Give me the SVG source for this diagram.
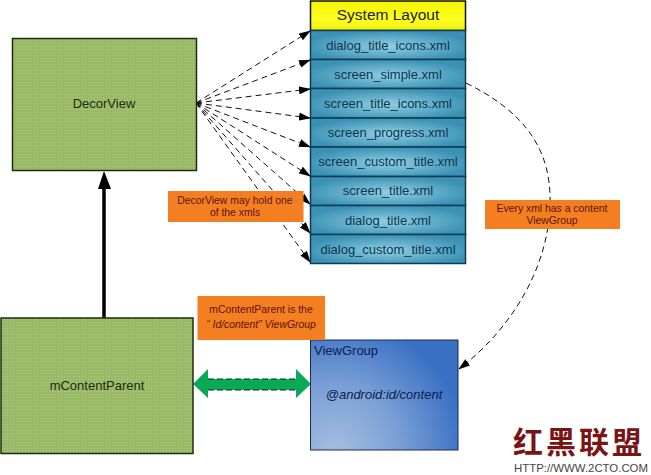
<svg xmlns="http://www.w3.org/2000/svg" width="651" height="475" viewBox="0 0 651 475">
<style>
text{font-family:"Liberation Sans",Arial,"Noto Sans CJK SC",sans-serif;text-anchor:middle}
.green{fill:url(#dots);stroke:#1c2c12;stroke-width:1.5}
.row{fill:url(#rowG);stroke:#0f3c52;stroke-width:1.5}
.rowt{font-size:13px;fill:#0f3550}
.or{fill:#f47f22}
.ort{font-size:10.4px;fill:#5c1408}
.dash{fill:none;stroke:#111;stroke-width:1;stroke-dasharray:6 4;marker-end:url(#ah)}
</style>
<defs>
<pattern id="dots" width="3" height="3" patternUnits="userSpaceOnUse"><rect width="3" height="3" fill="#9aba68"/><circle cx="1.5" cy="1.5" r=".6" fill="#b4cc88"/></pattern>
<radialGradient id="rowG" cx=".5" cy=".55" r=".55"><stop offset="0" stop-color="#8fcfe2"/><stop offset="1" stop-color="#3a91b4"/></radialGradient>
<linearGradient id="yel" x1="0" y1="0" x2="0" y2="1"><stop offset="0" stop-color="#f2f200"/><stop offset=".6" stop-color="#ffff20"/><stop offset="1" stop-color="#eeee10"/></linearGradient>
<radialGradient id="blue" gradientUnits="userSpaceOnUse" cx="335" cy="450" r="130"><stop offset="0" stop-color="#a5bde0"/><stop offset=".5" stop-color="#7a9fd6"/><stop offset="1" stop-color="#3a70c4"/></radialGradient>
<marker id="ah" markerWidth="12" markerHeight="8" refX="11" refY="4" orient="auto" markerUnits="userSpaceOnUse"><path d="M0 0L12 4L0 8Z" fill="#000"/></marker>
</defs>
<rect width="651" height="475" fill="#fff"/>
<g id="connectors">
<path class="dash" d="M196 103L310 31"/>
<path class="dash" d="M196 103L310 60"/>
<path class="dash" d="M196 103L310 89"/>
<path class="dash" d="M196 103L310 118"/>
<path class="dash" d="M196 103L310 147"/>
<path class="dash" d="M196 103L310 176"/>
<path class="dash" d="M196 103L310 204"/>
<path class="dash" d="M196 103L310 233"/>
<path class="dash" d="M196 103L310 262"/>
<path class="dash" d="M466 83C525 112 552 150 550 205C548 270 510 330 459 369"/>
<path d="M104 318V188" stroke="#000" stroke-width="3.5" fill="none"/>
<path d="M104 171L111 189H98Z" fill="#000"/>
<path d="M193 384L208 369V379H296V369L311 384L296 398V390H208V398Z" fill="#0aa955"/>
<path d="M208 379H296M208 390H296" stroke="#123" stroke-width="1" stroke-dasharray="6 3" fill="none"/>
</g>
<g id="decorview"><rect class="green" x="12.5" y="38.5" width="184" height="132"/><text x="104" y="108" font-size="13" fill="#1c2c12">DecorView</text></g>
<g id="mcontentparent"><rect class="green" x="1" y="318" width="192" height="135.500"/><text x="97" y="390" font-size="13" fill="#1c2c12">mContentParent</text></g>
<g id="system-layout">
<rect x="310.500" y="1" width="155" height="29.500" fill="url(#yel)" stroke="#111" stroke-width="1.500"/>
<text x="388" y="20" font-size="15.500" fill="#222">System Layout</text>
</g>
<g id="row1"><rect class="row" x="310.500" y="30.500" width="155" height="29"/><text class="rowt" x="388" y="50">dialog_title_icons.xml</text></g>
<g id="row2"><rect class="row" x="310.500" y="59.500" width="155" height="29"/><text class="rowt" x="388" y="79">screen_simple.xml</text></g>
<g id="row3"><rect class="row" x="310.500" y="88.500" width="155" height="29.500"/><text class="rowt" x="388" y="108">screen_title_icons.xml</text></g>
<g id="row4"><rect class="row" x="310.500" y="118" width="155" height="29"/><text class="rowt" x="388" y="137">screen_progress.xml</text></g>
<g id="row5"><rect class="row" x="310.500" y="147" width="155" height="29.500"/><text class="rowt" x="388" y="166">screen_custom_title.xml</text></g>
<g id="row6"><rect class="row" x="310.500" y="176.500" width="155" height="29"/><text class="rowt" x="388" y="195">screen_title.xml</text></g>
<g id="row7"><rect class="row" x="310.500" y="205.500" width="155" height="29"/><text class="rowt" x="388" y="225">dialog_title.xml</text></g>
<g id="row8"><rect class="row" x="310.500" y="234.500" width="155" height="29"/><text class="rowt" x="388" y="254">dialog_custom_title.xml</text></g>
<g id="viewgroup"><rect x="310.500" y="340" width="147.500" height="110" fill="url(#blue)" stroke="#1c2c50" stroke-width="1"/>
<text x="314" y="355" font-size="13" fill="#0c2050" style="text-anchor:start">ViewGroup</text>
<text x="384" y="399" font-size="13" font-style="italic" fill="#0c2050">@android:id/content</text></g>
<g id="note-decor"><rect class="or" x="168" y="191" width="135.500" height="31"/><text class="ort" x="235" y="203.500">DecorView may hold one</text><text class="ort" x="235" y="216">of the xmls</text></g>
<g id="note-every"><rect class="or" x="485" y="200" width="135" height="29"/><text class="ort" x="552" y="211.500">Every xml has a content</text><text class="ort" x="552" y="224">ViewGroup</text></g>
<g id="note-mcontent"><rect class="or" x="197.500" y="296" width="127.500" height="44"/><text class="ort" x="261" y="313">mContentParent is the</text><text class="ort" x="261" y="328" font-style="italic">“ Id/content” ViewGroup</text></g>
<g id="watermark"><text x="579" y="453" font-size="30" font-weight="700" fill="#7a1414" letter-spacing="3" style="font-family:'Noto Sans CJK SC',sans-serif">红黑联盟</text><text x="581" y="472" font-size="11.400" fill="#444">HTTP://WWW.2CTO.COM</text></g>
</svg>
